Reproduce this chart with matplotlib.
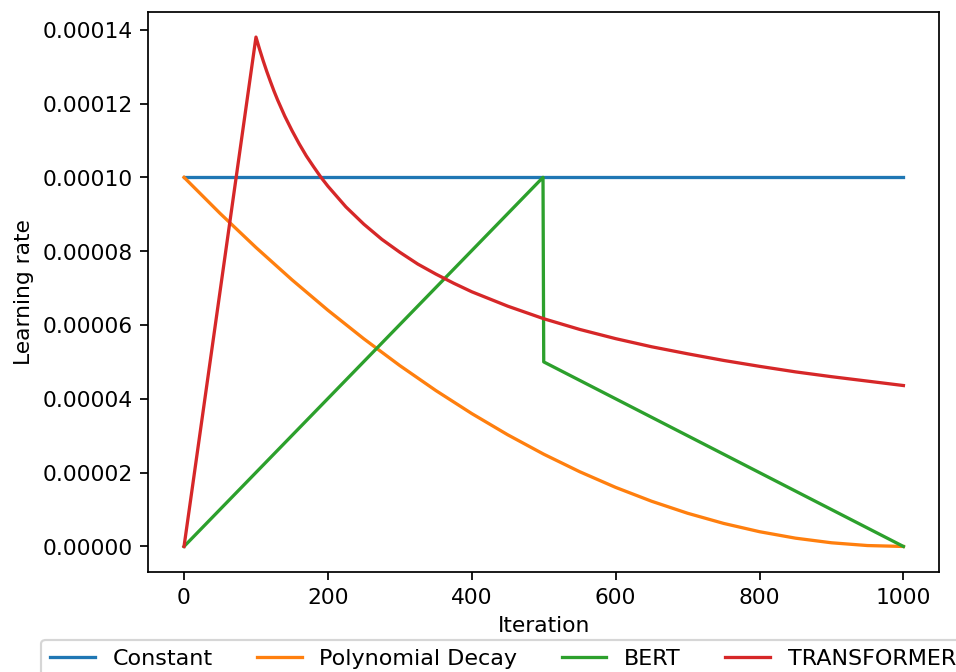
import numpy as np
import matplotlib
matplotlib.use("Agg")
import matplotlib.pyplot as plt

# iteration grids and learning rates
const_x = [0, 1000]
const_lr = [1.0e-4, 1.0e-4]

poly_x = [0, 50, 100, 150, 200, 250, 300, 350, 400, 450, 500,
          550, 600, 650, 700, 750, 800, 850, 900, 950, 1000]
poly_lr = [1.0e-4, 0.9025e-4, 0.81e-4, 0.7225e-4, 0.64e-4, 0.5625e-4, 0.49e-4,
           0.4225e-4, 0.36e-4, 0.3025e-4, 0.25e-4, 0.2025e-4, 0.16e-4, 0.1225e-4,
           0.09e-4, 0.0625e-4, 0.04e-4, 0.0225e-4, 0.01e-4, 0.0025e-4, 0.0]

bert_x = [0, 499, 500, 1000]
bert_lr = [0.0, 1.0e-4, 0.5e-4, 0.0]

trans_x = [0, 100, 105, 110, 115, 120, 125, 130, 140, 150, 160, 170, 180, 190,
           200, 225, 250, 275, 300, 325, 350, 375, 400, 450, 500, 550, 600,
           650, 700, 750, 800, 850, 900, 950, 1000]
trans_lr = [0.0, 1.380e-4, 1.347e-4, 1.316e-4, 1.287e-4, 1.260e-4, 1.234e-4,
            1.210e-4, 1.166e-4, 1.127e-4, 1.091e-4, 1.058e-4, 1.029e-4, 1.001e-4,
            0.976e-4, 0.920e-4, 0.873e-4, 0.832e-4, 0.797e-4, 0.765e-4, 0.738e-4,
            0.713e-4, 0.690e-4, 0.651e-4, 0.617e-4, 0.588e-4, 0.563e-4, 0.541e-4,
            0.522e-4, 0.504e-4, 0.488e-4, 0.473e-4, 0.460e-4, 0.448e-4, 0.436e-4]

dpi = 157
fig = plt.figure(figsize=(956.4 / dpi, 672.4 / dpi), dpi=dpi)
ax = fig.add_axes([148 / 956, 1 - 572 / 672, (939 - 148) / 956, (572 - 12) / 672])

ax.plot(const_x, const_lr, label='Constant')
ax.plot(poly_x, poly_lr, label='Polynomial Decay')
ax.plot(bert_x, bert_lr, label='BERT')
ax.plot(trans_x, trans_lr, label='TRANSFORMER')

ax.set_xlabel('Iteration')
ax.set_ylabel('Learning rate')
ax.yaxis.get_major_formatter().set_useOffset(False)
ax.ticklabel_format(axis='y', style='plain')

ax.legend(loc='upper left', bbox_to_anchor=(-0.149, -0.1015), ncol=4,
          fontsize=10.2, columnspacing=2.0)

fig.savefig('out.png', dpi=dpi)
